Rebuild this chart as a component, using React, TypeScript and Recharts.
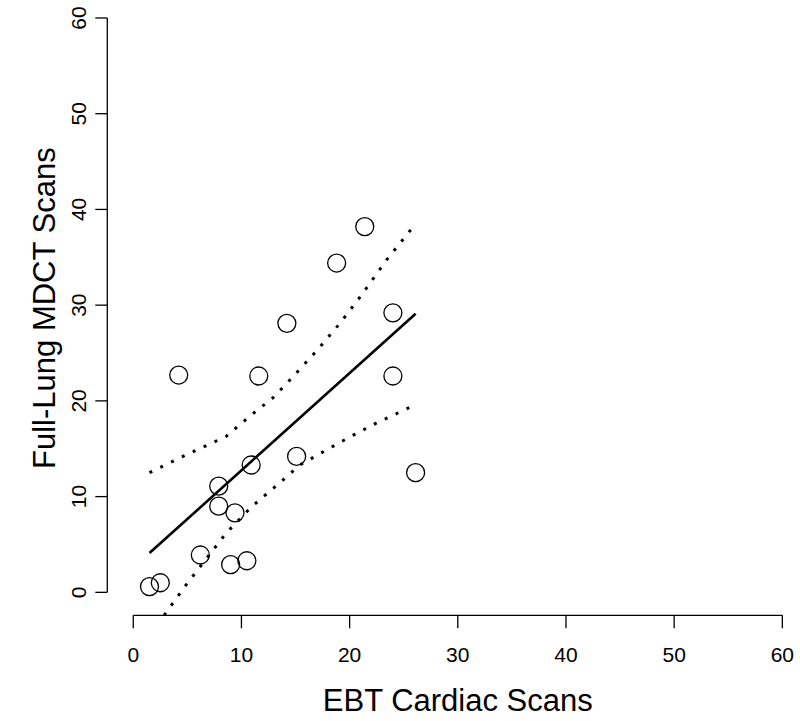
import { Label, ReferenceLine, Scatter, ScatterChart, XAxis, YAxis } from 'recharts';

// observed pairs
const ebtScans = [1.5, 2.5, 4.2, 6.2, 7.9, 7.9, 9.4, 9.0, 10.5, 10.9, 11.6, 14.2, 15.1, 18.8, 21.4, 24.0, 24.0, 26.1];
const mdctScans = [0.6, 1.0, 22.7, 3.9, 11.1, 9.0, 8.3, 2.9, 3.3, 13.3, 22.6, 28.1, 14.2, 34.4, 38.2, 29.2, 22.6, 12.5];

// fitted line and dotted band
const fitX = [1.5, 26.1];
const fitY = [4.1, 29.1];
const upperX = [1.5, 4.6, 8.6, 11.1, 12.9, 14.5, 17.0, 19.1, 21.0, 23.4, 26.1];
const upperY = [12.5, 14.2, 16.3, 18.7, 20.3, 22.2, 25.3, 28.1, 30.9, 34.7, 38.5];
const lowerX = [2.85, 4.9, 8.6, 10.9, 13.6, 15.4, 17.9, 20.3, 22.5, 26.1];
const lowerY = [-2.4, 0.8, 6.2, 8.9, 11.5, 13.3, 14.9, 16.4, 17.7, 19.6];

const axisTicks = [0, 10, 20, 30, 40, 50, 60];
const domain: [number, number] = [-2.4, 62.4];

const FONT = '"Liberation Sans", Arial, sans-serif';
const INK = '#000';

const toPoints = (xs: number[], ys: number[]) => xs.map((x, i) => ({ x, y: ys[i] }));

const Ring = (props: any) => (
  <circle cx={props.cx} cy={props.cy} r={9} fill="none" stroke={INK} strokeWidth={1.3} />
);
const NoDot = () => <g />;

const XTick = (props: any) => (
  <text x={props.x} y={props.y + 15} textAnchor="middle" fontSize={21} fontFamily={FONT} fill={INK}>
    {props.payload.value}
  </text>
);

const YTick = (props: any) => (
  <text
    x={props.x}
    y={props.y}
    transform={`rotate(-90, ${props.x}, ${props.y})`}
    textAnchor="middle"
    fontSize={21}
    fontFamily={FONT}
    fill={INK}
  >
    {props.payload.value}
  </text>
);

const XTitle = (props: any) => {
  const { x, y, width } = props.viewBox;
  return (
    <text x={x + width / 2} y={y + 95.7} textAnchor="middle" fontSize={31} fontFamily={FONT} fill={INK}>
      EBT Cardiac Scans
    </text>
  );
};

const YTitle = (props: any) => {
  const { y, height } = props.viewBox;
  const cx = 55;
  const cy = y + height / 2 + 3;
  return (
    <text
      x={cx}
      y={cy}
      transform={`rotate(-90, ${cx}, ${cy})`}
      textAnchor="middle"
      fontSize={31}
      fontFamily={FONT}
      fill={INK}
    >
      Full-Lung MDCT Scans
    </text>
  );
};

export default function App() {
  return (
    <div style={{ position: 'absolute', left: 0, top: 0, width: 800, height: 721, overflow: 'hidden', background: '#fff' }}>
      <div style={{ position: 'relative', top: -10 }}>
        <ScatterChart width={830} height={740} margin={{ top: 5, right: 21.7, bottom: 0, left: 0 }}>
          <XAxis
            type="number"
            dataKey="x"
            domain={domain}
            allowDataOverflow
            ticks={axisTicks}
            interval={0}
            axisLine={false}
            tickLine={{ stroke: INK, strokeWidth: 1.3 }}
            tickSize={13}
            tickMargin={18.7}
            height={114.7}
            tick={<XTick />}
          >
            <Label content={XTitle} />
          </XAxis>
          <YAxis
            type="number"
            dataKey="y"
            domain={domain}
            allowDataOverflow
            ticks={axisTicks}
            interval={0}
            axisLine={false}
            tickLine={{ stroke: INK, strokeWidth: 1.3 }}
            tickSize={12}
            tickMargin={9.3}
            width={107.3}
            tick={<YTick />}
          >
            <Label content={YTitle} />
          </YAxis>
          <ReferenceLine segment={[{ x: 0, y: -2.4 }, { x: 60, y: -2.4 }]} stroke={INK} strokeWidth={1.3} ifOverflow="visible" />
          <ReferenceLine segment={[{ x: -2.4, y: 0 }, { x: -2.4, y: 60 }]} stroke={INK} strokeWidth={1.3} ifOverflow="visible" />
          <Scatter
            data={toPoints(upperX, upperY)}
            line={{ stroke: INK, strokeWidth: 3, strokeDasharray: '3 9' }}
            shape={NoDot}
            isAnimationActive={false}
          />
          <Scatter
            data={toPoints(lowerX, lowerY)}
            line={{ stroke: INK, strokeWidth: 3, strokeDasharray: '3 9' }}
            shape={NoDot}
            isAnimationActive={false}
          />
          <Scatter
            data={toPoints(fitX, fitY)}
            line={{ stroke: INK, strokeWidth: 2.6 }}
            shape={NoDot}
            isAnimationActive={false}
          />
          <Scatter data={toPoints(ebtScans, mdctScans)} shape={Ring} isAnimationActive={false} />
        </ScatterChart>
      </div>
    </div>
  );
}
